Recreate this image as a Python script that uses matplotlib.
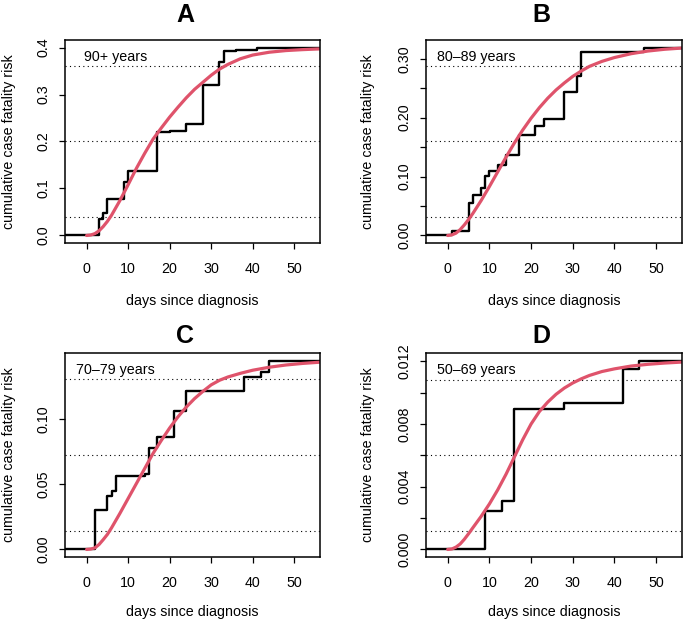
import matplotlib

matplotlib.use("Agg")
import matplotlib.pyplot as plt

plt.rcParams["font.family"] = ["Liberation Sans", "DejaVu Sans"]

W, H = 685, 624

panel_letters = ["A", "B", "C", "D"]
age_groups = ["90+ years", "80–89 years", "70–79 years", "50–69 years"]

# empirical step estimate: day of each jump and level reached after it
step_days_a = [3, 4, 5, 9, 10, 17, 20, 24, 28, 32, 33, 36, 41]
step_risk_a = [0.035, 0.048, 0.077, 0.113, 0.138, 0.220, 0.222, 0.237, 0.320, 0.370, 0.392, 0.395, 0.400]

step_days_b = [1, 5, 6, 8, 9, 10, 12, 14, 17, 21, 23, 28, 31, 32, 47]
step_risk_b = [0.007, 0.055, 0.069, 0.080, 0.101, 0.110, 0.120, 0.137, 0.171, 0.185, 0.197, 0.243, 0.270, 0.311, 0.319]

step_days_c = [2, 5, 6, 7, 14, 15, 17, 21, 24, 38, 42, 44]
step_risk_c = [0.0300, 0.0412, 0.0447, 0.0559, 0.0579, 0.0777, 0.0859, 0.1060, 0.1216, 0.1318, 0.1361, 0.1446]

step_days_d = [9, 13, 16, 28, 42, 46]
step_risk_d = [0.00245, 0.00309, 0.00898, 0.00934, 0.01153, 0.01205]

fit_days = [0, 1, 2, 3, 4, 5, 6, 8, 10, 12, 14, 16, 18, 20, 22, 24, 26, 28, 30, 32, 34, 37, 40, 44, 48, 52, 56]
fit_risk_a = [0, 0.001, 0.004, 0.010, 0.019, 0.030, 0.043, 0.074, 0.108, 0.143, 0.175, 0.205, 0.229,
              0.252, 0.273, 0.293, 0.311, 0.326, 0.341, 0.354, 0.364, 0.376, 0.384, 0.390, 0.3935, 0.3955, 0.397]
fit_risk_b = [0, 0.001, 0.004, 0.010, 0.018, 0.027, 0.037, 0.059, 0.083, 0.108, 0.133, 0.157, 0.179,
              0.199, 0.217, 0.233, 0.247, 0.259, 0.270, 0.279, 0.287, 0.2955, 0.302, 0.3085, 0.313, 0.316, 0.318]
fit_risk_c = [0, 0.0003, 0.0012, 0.0038, 0.0075, 0.0115, 0.0165, 0.0275, 0.039, 0.0505, 0.062, 0.0735, 0.0835,
              0.093, 0.1015, 0.109, 0.1155, 0.121, 0.126, 0.1295, 0.132, 0.1348, 0.1372, 0.1395, 0.1412, 0.1424, 0.1433]
fit_risk_d = [0, 0.00003, 0.00015, 0.00035, 0.00065, 0.0010, 0.00137, 0.0021, 0.0029, 0.0038, 0.0048, 0.0059, 0.0070,
              0.0080, 0.0088, 0.0094, 0.0099, 0.0103, 0.01062, 0.01088, 0.0111, 0.01135, 0.01152, 0.0117, 0.01181, 0.01189, 0.01195]

# dotted reference levels (10%, 50%, 90% of the plateau)
ref_levels_a = [0.04, 0.20, 0.36]
ref_levels_b = [0.032, 0.16, 0.288]
ref_levels_c = [0.0145, 0.0725, 0.1305]
ref_levels_d = [0.0012, 0.0060, 0.0108]

yticks_a = [0.0, 0.1, 0.2, 0.3, 0.4]
ylabels_a = ["0.0", "0.1", "0.2", "0.3", "0.4"]
yticks_b = [0.0, 0.05, 0.10, 0.15, 0.20, 0.25, 0.30]
ylabels_b = ["0.00", "", "0.10", "", "0.20", "", "0.30"]
yticks_c = [0.0, 0.05, 0.10]
ylabels_c = ["0.00", "0.05", "0.10"]
yticks_d = [0.0, 0.002, 0.004, 0.006, 0.008, 0.010, 0.012]
ylabels_d = ["0.000", "", "0.004", "", "0.008", "", "0.012"]

xticks = [0, 10, 20, 30, 40, 50]

panels = [
    (step_days_a, step_risk_a, fit_risk_a, ref_levels_a, yticks_a, ylabels_a),
    (step_days_b, step_risk_b, fit_risk_b, ref_levels_b, yticks_b, ylabels_b),
    (step_days_c, step_risk_c, fit_risk_c, ref_levels_c, yticks_c, ylabels_c),
    (step_days_d, step_risk_d, fit_risk_d, ref_levels_d, yticks_d, ylabels_d),
]

# axes boxes in pixels: left, top, right, bottom
boxes = [(65, 40, 320, 243), (426, 40, 682, 243), (65, 353, 320, 557), (426, 353, 682, 557)]
title_pos = [(185, 22), (541, 22), (185, 343), (541, 343)]
ylabel_x = [9, 368, 9, 368]
xlabel_y = [305, 305, 616, 616]

red = "#DF536B"

fig = plt.figure(figsize=(W / 100, H / 100), dpi=100)

for i, (days, risk, fit, refs, yt, yl) in enumerate(panels):
    left, top, right, bottom = boxes[i]
    ax = fig.add_axes([left / W, 1 - bottom / H, (right - left) / W, (bottom - top) / H])

    ymax = max(max(risk), max(fit))
    ax.set_xlim(-5.2, 56.2)
    ax.set_ylim(-0.04 * ymax, 1.04 * ymax)

    for level in refs:
        ax.axhline(level, color="black", linewidth=0.8, linestyle=(0, (1, 3)))

    xs = [-10] + days + [70]
    ys = [0] + risk + [risk[-1]]
    ax.step(xs, ys, where="post", color="black", linewidth=1.7)
    ax.plot(fit_days, fit, color=red, linewidth=2.3, solid_capstyle="round")

    ax.set_xticks(xticks)
    ax.set_xticklabels([str(t) for t in xticks])
    ax.set_yticks(yt)
    ax.set_yticklabels(yl)
    ax.tick_params(axis="both", length=4.3, width=0.9, labelsize=10.3, color="black")
    ax.tick_params(axis="x", pad=9.5)
    ax.tick_params(axis="y", pad=6.3, labelrotation=90)
    for lab in ax.get_yticklabels():
        lab.set_verticalalignment("center")
    for spine in ax.spines.values():
        spine.set_linewidth(1.1)

    ax.text(0.198, 0.899, age_groups[i], transform=ax.transAxes, ha="center", va="baseline", fontsize=10.3)

    tx, ty = title_pos[i]
    fig.text(tx / W, 1 - ty / H, panel_letters[i], ha="center", va="baseline", fontsize=18, fontweight="bold")
    fig.text(ylabel_x[i] / W, 1 - ((top + bottom) / 2) / H, "cumulative case fatality risk",
             rotation=90, ha="center", va="center", fontsize=10.3)
    fig.text(((left + right) / 2) / W, 1 - xlabel_y[i] / H, "days since diagnosis",
             ha="center", va="baseline", fontsize=10.3)

fig.savefig("out.png", dpi=100)
